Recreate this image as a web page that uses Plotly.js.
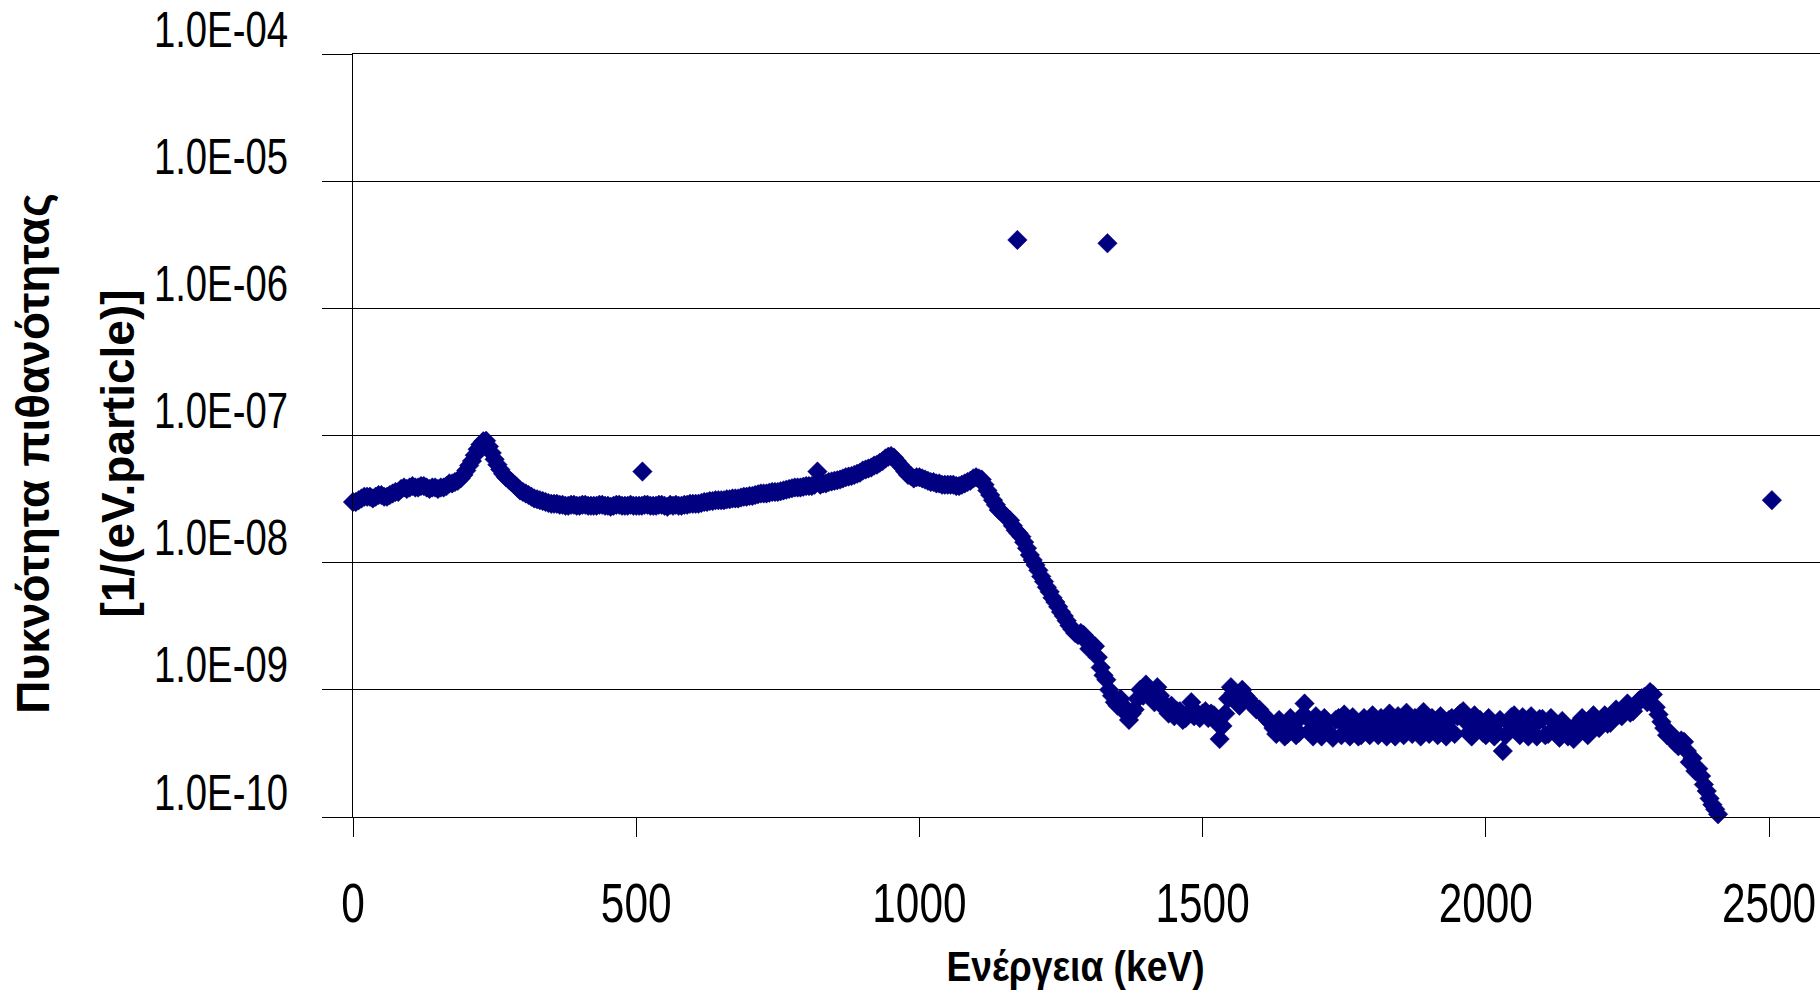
<!DOCTYPE html>
<html>
<head>
<meta charset="utf-8">
<script src="https://cdn.plot.ly/plotly-3.0.1.min.js"></script>
<style>
html,body{margin:0;padding:0;background:#fff;}
#chart{width:1820px;height:1000px;}
</style>
</head>
<body>
<div id="chart"></div>
<script>
// Energy channels (keV)
var energy = [
0,5,10,15,20,25,30,35,40,45,50,55,60,65,70,75,80,85,90,95,
100,105,110,115,120,125,130,135,140,145,150,155,160,165,170,175,180,185,190,195,
200,205,210,215,220,225,230,235,240,245,250,255,260,265,270,275,280,285,290,295,
300,305,310,315,320,325,330,335,340,345,350,355,360,365,370,375,380,385,390,395,
400,405,410,415,420,425,430,435,440,445,450,455,460,465,470,475,480,485,490,495,
500,505,510,515,520,525,530,535,540,545,550,555,560,565,570,575,580,585,590,595,
600,605,610,615,620,625,630,635,640,645,650,655,660,665,670,675,680,685,690,695,
700,705,710,715,720,725,730,735,740,745,750,755,760,765,770,775,780,785,790,795,
800,805,810,815,820,825,830,835,840,845,850,855,860,865,870,875,880,885,890,895,
900,905,910,915,920,925,930,935,940,945,950,955,960,965,970,975,980,985,990,995,
1000,1005,1010,1015,1020,1025,1030,1035,1040,1045,1050,1055,1060,1065,1070,1075,1080,1085,1090,1095,
1100,1105,1110,1115,1120,1125,1130,1135,1140,1145,1150,1155,1160,1165,1170,1175,1180,1185,1190,1195,
1200,1205,1210,1215,1220,1225,1230,1235,1240,1245,1250,1255,1260,1265,1270,1275,1280,1285,1290,1295,
1300,1305,1310,1315,1320,1325,1330,1335,1340,1345,1350,1355,1360,1365,1370,1375,1380,1385,1390,1395,
1400,1405,1410,1415,1420,1425,1430,1435,1440,1445,1450,1455,1460,1465,1470,1475,1480,1485,1490,1495,
1500,1505,1510,1515,1520,1525,1530,1535,1540,1545,1550,1555,1560,1565,1570,1575,1580,1585,1590,1595,
1600,1605,1610,1615,1620,1625,1630,1635,1640,1645,1650,1655,1660,1665,1670,1675,1680,1685,1690,1695,
1700,1705,1710,1715,1720,1725,1730,1735,1740,1745,1750,1755,1760,1765,1770,1775,1780,1785,1790,1795,
1800,1805,1810,1815,1820,1825,1830,1835,1840,1845,1850,1855,1860,1865,1870,1875,1880,1885,1890,1895,
1900,1905,1910,1915,1920,1925,1930,1935,1940,1945,1950,1955,1960,1965,1970,1975,1980,1985,1990,1995,
2000,2005,2010,2015,2020,2025,2030,2035,2040,2045,2050,2055,2060,2065,2070,2075,2080,2085,2090,2095,
2100,2105,2110,2115,2120,2125,2130,2135,2140,2145,2150,2155,2160,2165,2170,2175,2180,2185,2190,2195,
2200,2205,2210,2215,2220,2225,2230,2235,2240,2245,2250,2255,2260,2265,2270,2275,2280,2285,2290,2295,
2300,2305,2310,2315,2320,2325,2330,2335,2340,2345,2350,2355,2360,2365,2370,2375,2380,2385,2390,2395,
2400,2405,2410
];
// Probability density [1/(eV.particle)]
var density = [
3.0e-8,3.0e-8,3.1e-8,3.2e-8,3.3e-8,3.3e-8,3.3e-8,3.2e-8,3.3e-8,3.4e-8,3.4e-8,3.3e-8,3.3e-8,3.4e-8,3.5e-8,3.6e-8,3.6e-8,3.8e-8,3.9e-8,3.8e-8,
3.9e-8,4.0e-8,3.9e-8,3.9e-8,4.0e-8,4.0e-8,3.9e-8,3.8e-8,3.9e-8,3.9e-8,3.8e-8,3.9e-8,3.9e-8,4.0e-8,4.2e-8,4.2e-8,4.3e-8,4.4e-8,4.6e-8,4.9e-8,
5.3e-8,5.8e-8,6.3e-8,7.0e-8,7.8e-8,8.5e-8,9.0e-8,9.1e-8,8.2e-8,7.3e-8,6.5e-8,5.9e-8,5.4e-8,5.0e-8,4.7e-8,4.5e-8,4.3e-8,4.1e-8,3.9e-8,3.7e-8,
3.6e-8,3.5e-8,3.4e-8,3.3e-8,3.2e-8,3.15e-8,3.1e-8,3.05e-8,3.0e-8,2.95e-8,2.9e-8,2.9e-8,2.9e-8,2.85e-8,2.85e-8,2.8e-8,2.8e-8,2.85e-8,2.85e-8,2.8e-8,
2.8e-8,2.85e-8,2.85e-8,2.8e-8,2.8e-8,2.8e-8,2.8e-8,2.85e-8,2.85e-8,2.8e-8,2.8e-8,2.75e-8,2.8e-8,2.85e-8,2.85e-8,2.8e-8,2.8e-8,2.8e-8,2.85e-8,2.8e-8,
2.8e-8,2.8e-8,2.8e-8,2.85e-8,2.85e-8,2.8e-8,2.8e-8,2.8e-8,2.85e-8,2.85e-8,2.8e-8,2.75e-8,2.85e-8,2.8e-8,2.85e-8,2.8e-8,2.8e-8,2.85e-8,2.85e-8,2.9e-8,
2.9e-8,2.9e-8,2.9e-8,2.95e-8,3.0e-8,3.0e-8,3.05e-8,3.05e-8,3.1e-8,3.1e-8,3.1e-8,3.1e-8,3.15e-8,3.15e-8,3.2e-8,3.2e-8,3.2e-8,3.25e-8,3.3e-8,3.3e-8,
3.35e-8,3.35e-8,3.4e-8,3.45e-8,3.5e-8,3.5e-8,3.5e-8,3.55e-8,3.6e-8,3.6e-8,3.6e-8,3.65e-8,3.7e-8,3.75e-8,3.8e-8,3.85e-8,3.9e-8,3.9e-8,3.9e-8,3.95e-8,
4.0e-8,4.0e-8,4.0e-8,4.1e-8,5.2e-8,4.1e-8,4.2e-8,4.2e-8,4.3e-8,4.35e-8,4.4e-8,4.45e-8,4.5e-8,4.6e-8,4.7e-8,4.75e-8,4.8e-8,4.9e-8,5.0e-8,5.1e-8,
5.3e-8,5.4e-8,5.5e-8,5.6e-8,5.8e-8,5.9e-8,6.1e-8,6.3e-8,6.6e-8,6.8e-8,6.9e-8,6.7e-8,6.3e-8,5.9e-8,5.6e-8,5.2e-8,4.9e-8,4.8e-8,4.6e-8,4.7e-8,
4.7e-8,4.6e-8,4.5e-8,4.4e-8,4.3e-8,4.3e-8,4.2e-8,4.2e-8,4.1e-8,4.1e-8,4.1e-8,4.1e-8,4.1e-8,4.0e-8,4.0e-8,4.1e-8,4.2e-8,4.3e-8,4.4e-8,4.6e-8,
4.7e-8,4.6e-8,4.5e-8,4.1e-8,3.7e-8,3.4e-8,3.1e-8,2.85e-8,2.6e-8,2.5e-8,2.35e-8,2.25e-8,2.15e-8,1.95e-8,1.8e-8,1.7e-8,1.6e-8,1.45e-8,1.3e-8,1.15e-8,
1.05e-8,9.6e-9,8.7e-9,7.8e-9,7.1e-9,6.4e-9,5.9e-9,5.3e-9,4.9e-9,4.5e-9,4.1e-9,3.8e-9,3.5e-9,3.2e-9,3.0e-9,2.8e-9,2.7e-9,2.8e-9,2.7e-9,2.4e-9,
2.1e-9,2.3e-9,2.2e-9,1.8e-9,1.5e-9,1.3e-9,1.2e-9,1.0e-9,9.0e-10,8.0e-10,7.5e-10,8.5e-10,7.5e-10,6.5e-10,5.8e-10,6.5e-10,7.0e-10,8.5e-10,1.0e-9,9.0e-10,
1.1e-9,1.0e-9,9.5e-10,8.0e-10,1.05e-9,9.0e-10,8.0e-10,7.0e-10,6.5e-10,7.5e-10,6.2e-10,6.8e-10,6.8e-10,5.8e-10,6.0e-10,6.6e-10,8.0e-10,6.2e-10,6.6e-10,6.0e-10,
6.5e-10,6.8e-10,6.0e-10,6.5e-10,6.3e-10,5.5e-10,4.1e-10,5.2e-10,6.5e-10,8.5e-10,1.05e-9,9.5e-10,9.0e-10,7.5e-10,1.0e-9,9.0e-10,8.5e-10,8.0e-10,7.5e-10,7.0e-10,
7.0e-10,6.5e-10,6.2e-10,5.8e-10,5.5e-10,5.0e-10,4.5e-10,5.8e-10,5.2e-10,4.3e-10,4.5e-10,6.0e-10,5.4e-10,4.4e-10,4.6e-10,6.2e-10,7.8e-10,6.0e-10,4.8e-10,4.3e-10,
6.2e-10,5.2e-10,4.3e-10,6.0e-10,5.6e-10,4.5e-10,4.2e-10,5.8e-10,6.0e-10,4.4e-10,6.4e-10,5.0e-10,4.3e-10,6.1e-10,5.5e-10,4.3e-10,4.4e-10,6.0e-10,5.2e-10,4.4e-10,
6.3e-10,5.1e-10,4.4e-10,6.0e-10,5.7e-10,4.3e-10,6.5e-10,5.0e-10,4.3e-10,6.2e-10,5.9e-10,4.4e-10,6.6e-10,5.2e-10,4.5e-10,6.0e-10,5.6e-10,4.3e-10,6.7e-10,5.4e-10,
4.5e-10,6.0e-10,5.5e-10,4.4e-10,6.2e-10,5.1e-10,4.3e-10,5.8e-10,6.0e-10,4.5e-10,6.2e-10,6.5e-10,6.8e-10,5.6e-10,4.6e-10,4.3e-10,6.3e-10,5.3e-10,5.8e-10,4.6e-10,
4.4e-10,6.0e-10,5.3e-10,4.3e-10,4.6e-10,5.8e-10,3.3e-10,4.4e-10,5.5e-10,6.1e-10,6.3e-10,5.0e-10,4.4e-10,6.1e-10,5.6e-10,4.3e-10,6.2e-10,5.2e-10,4.3e-10,5.9e-10,
5.9e-10,4.4e-10,4.5e-10,6.0e-10,5.6e-10,4.6e-10,4.2e-10,5.7e-10,5.2e-10,4.3e-10,4.4e-10,4.1e-10,4.6e-10,5.6e-10,6.0e-10,4.8e-10,4.4e-10,5.8e-10,6.3e-10,5.2e-10,
5.0e-10,5.8e-10,6.3e-10,5.4e-10,5.5e-10,6.2e-10,7.0e-10,6.4e-10,6.2e-10,7.2e-10,7.8e-10,6.6e-10,6.8e-10,7.6e-10,8.2e-10,8.6e-10,8.8e-10,8.0e-10,9.6e-10,9.2e-10,
7.3e-10,6.4e-10,5.6e-10,5.0e-10,4.4e-10,4.6e-10,4.2e-10,3.8e-10,3.6e-10,4.0e-10,3.9e-10,3.3e-10,2.7e-10,2.9e-10,2.3e-10,2.4e-10,2.1e-10,1.8e-10,1.6e-10,1.4e-10,
1.25e-10,1.15e-10,1.05e-10
];
// Isolated points (annihilation line, Co-60 photopeaks, sum peak)
var peakEnergy = [511, 1173, 1332, 2505];
var peakDensity = [5.2e-8, 3.45e-6, 3.25e-6, 3.1e-8];

var yTickVals = [1e-10, 1e-9, 1e-8, 1e-7, 1e-6, 1e-5, 1e-4];
var yTickText = ['1.0E-10','1.0E-09','1.0E-08','1.0E-07','1.0E-06','1.0E-05','1.0E-04'];
var xTickVals = [0, 500, 1000, 1500, 2000, 2500];
var xTickText = ['0','500','1000','1500','2000','2500'];

var FONT = '"Liberation Sans", Arial, sans-serif';
var NAVY = '#000080';
var markerStyle = {symbol:'diamond', size:15, color:NAVY, line:{width:0.5, color:NAVY}};

var traces = [
  {x: energy, y: density, type:'scatter', mode:'markers', marker: markerStyle,
   showlegend:false, cliponaxis:false, hoverinfo:'x+y'},
  {x: peakEnergy, y: peakDensity, type:'scatter', mode:'markers', marker: markerStyle,
   showlegend:false, cliponaxis:false, hoverinfo:'x+y'}
];

var layout = {
  width:1820, height:1000,
  paper_bgcolor:'#ffffff', plot_bgcolor:'#ffffff',
  margin:{l:353, r:0, t:54, b:183, pad:0},
  font:{family:FONT, color:'#000'},
  showlegend:false,
  xaxis:{
    range:[0, 2590], tickvals:xTickVals, ticktext:xTickText,
    showgrid:false, zeroline:false,
    showline:true, mirror:true, linecolor:'#000', linewidth:1,
    ticks:'outside', ticklen:19, tickwidth:1, tickcolor:'#000',
    tickfont:{family:FONT, size:55, color:'#000'},
    ticklabelstandoff:19, ticklabeloverflow:'allow',
    title:{text:'Ενέργεια (keV)', font:{family:FONT, size:43, color:'#000', weight:'bold'}, standoff:17}
  },
  yaxis:{
    type:'log', range:[-10, -4],
    tickvals:yTickVals, ticktext:yTickText,
    showgrid:true, gridcolor:'#000', gridwidth:1,
    zeroline:false,
    showline:true, linecolor:'#000', linewidth:1,
    ticks:'outside', ticklen:30, tickwidth:1, tickcolor:'#000',
    tickfont:{family:FONT, size:50, color:'#000'},
    ticklabelstandoff:24, ticklabelshift:-25, ticklabeloverflow:'allow',
    title:{text:'Πυκνότητα πιθανότητας<br>[1/(eV.particle)]', font:{family:FONT, size:46, color:'#000', weight:'bold'}, standoff:10}
  }
};

function condense(root, selector, factor){
  root.querySelectorAll(selector).forEach(function(t){
    var len = t.getComputedTextLength();
    if (len > 0) {
      t.setAttribute('textLength', (len * factor).toFixed(1));
      t.setAttribute('lengthAdjust', 'spacingAndGlyphs');
    }
  });
}

var gd = document.getElementById('chart');
Plotly.newPlot(gd, traces, layout, {displayModeBar:false, responsive:false}).then(function(){
  // the original chart's lettering is horizontally condensed
  condense(gd, '.xtick text', 0.77);
  condense(gd, '.ytick text', 0.766);
  condense(gd, '.g-xtitle text', 0.865);

  // y title: wider spacing between its two lines, then place it
  var yt = gd.querySelector('.g-ytitle text');
  if (yt) {
    var lines = yt.querySelectorAll('tspan.line');
    if (lines.length > 1) lines[1].setAttribute('dy', '1.85em');
    var r = yt.getBoundingClientRect();
    var g = gd.querySelector('.g-ytitle');
    var dx = 159 - r.right, dy = 453.5 - (r.top + r.bottom) / 2;
    g.setAttribute('transform', 'translate(' + dx.toFixed(1) + ',' + dy.toFixed(1) + ')');
  }
  // x title: centred a little left of the plot centre, as in the original
  var xt = gd.querySelector('.g-xtitle text');
  if (xt) {
    var rx = xt.getBoundingClientRect();
    var gx = gd.querySelector('.g-xtitle');
    gx.setAttribute('transform', 'translate(' + (1075.5 - (rx.left + rx.right) / 2).toFixed(1) + ',0)');
  }
});
</script>
</body>
</html>
